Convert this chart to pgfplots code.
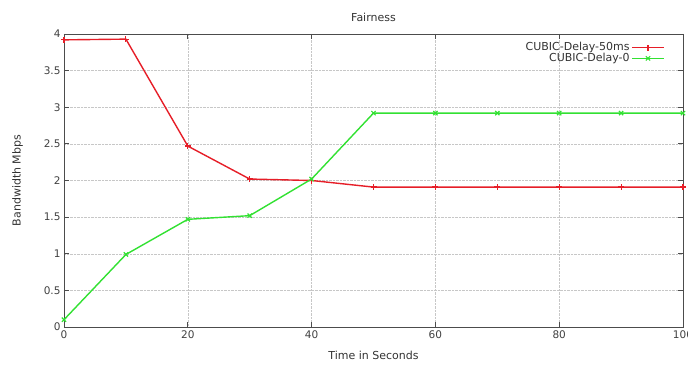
\documentclass[border=0pt]{standalone}
\usepackage{fontspec}
\setmainfont{DejaVu Sans}
\usepackage{pgfplots}
\pgfplotsset{compat=1.18}
\definecolor{gpred}{RGB}{230,30,40}
\definecolor{gpgreen}{RGB}{50,225,50}
\begin{document}
\begin{tikzpicture}
\begin{axis}[
  name=ax,
  scale only axis,
  width=619pt, height=293pt,
  xmin=0, xmax=100, ymin=0, ymax=4,
  xtick={0,20,...,100}, ytick={0,0.5,...,4},
  yticklabel style={/pgf/number format/fixed},
  /pgf/number format/assume math mode=true,
  tick label style={font=\fontsize{10.5}{12}\selectfont, text=black!75},
  label style={font=\fontsize{11}{12}\selectfont, text=black!80},
  title style={font=\fontsize{11}{12}\selectfont, text=black!80, yshift=3pt},
  title={Fairness},
  xlabel={Time in Seconds},
  xlabel style={yshift=-6pt},
  ylabel={Bandwidth Mbps},
  ylabel style={yshift=14pt},
  grid=major,
  major grid style={densely dotted, black!22},
  axis line style={black!70, line width=0.9pt},
  tick style={black!70, line width=0.9pt},
  tick align=inside,
  major tick length=5pt,
  legend style={draw=none, fill=none, at={(0.975,0.985)}, anchor=north east,
    font=\fontsize{11}{12}\selectfont, legend cell align=right,
    row sep=-3pt},
  legend plot pos=right,
]
\addplot[color=gpred, line width=1.4pt, mark=+, mark size=3pt, mark options={gpred, line width=1.2pt},
  legend image code/.code={
    \draw[gpred, line width=1.4pt] (0cm,0cm) -- (1.1cm,0cm);
    \draw[gpred, line width=1.2pt] (0.55cm,-3pt) -- (0.55cm,3pt) (0.55cm,0pt) ++(-3pt,0) -- ++(6pt,0);}]
coordinates {
(0,3.92) (10,3.93) (20,2.47) (30,2.02) (40,2.00) (50,1.91) (60,1.91) (70,1.91) (80,1.91) (90,1.91) (100,1.91)};
\addlegendentry{\textcolor{black!80}{CUBIC-Delay-50ms}}
\addplot[color=gpgreen, line width=1.4pt, mark=x, mark size=3pt, mark options={gpgreen, line width=1.2pt},
  legend image code/.code={
    \draw[gpgreen, line width=1.4pt] (0cm,0cm) -- (1.1cm,0cm);
    \draw[gpgreen, line width=1.2pt] (0.55cm,0pt) ++(-2.1pt,-2.1pt) -- ++(4.2pt,4.2pt) (0.55cm,0pt) ++(-2.1pt,2.1pt) -- ++(4.2pt,-4.2pt);}]
coordinates {
(0,0.10) (10,0.99) (20,1.47) (30,1.52) (40,2.02) (50,2.92) (60,2.92) (70,2.92) (80,2.92) (90,2.92) (100,2.92)};
\addlegendentry{\textcolor{black!80}{CUBIC-Delay-0}}
\end{axis}
\pgfresetboundingbox
\path[use as bounding box] (ax.south west) ++(-64pt,-40pt) rectangle ++(688pt,367pt);
\end{tikzpicture}
\end{document}
